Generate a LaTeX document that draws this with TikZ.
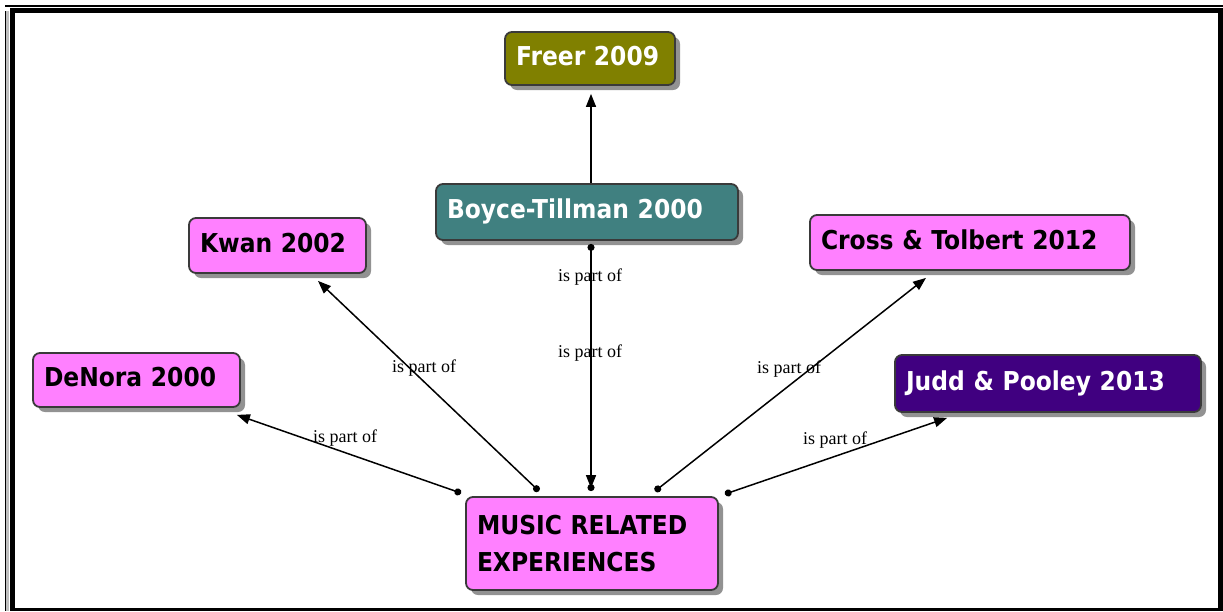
\documentclass[tikz,border=0pt]{standalone}
\usepackage{fontspec}
\setmainfont{Liberation Serif}
\newfontfamily\boxfont{DejaVu Sans}[FakeStretch=0.9]
\usetikzlibrary{arrows.meta,shadows,calc}

\definecolor{pinkbox}{HTML}{FF80FF}
\definecolor{olivebox}{HTML}{808000}
\definecolor{tealbox}{HTML}{408080}
\definecolor{purplebox}{HTML}{400080}
\definecolor{boxedge}{HTML}{3A3A3A}

\tikzset{
  concept/.style={draw=boxedge, line width=1.8pt, rounded corners=7pt,
    inner xsep=11pt, inner ysep=0pt, align=left,
    font=\boxfont\bfseries\fontsize{26}{37}\selectfont,
    drop shadow={shadow xshift=5pt, shadow yshift=-5pt, fill=black!50, opacity=0.85}},
  oneline/.style={text height=19pt, text depth=6pt},
  lbl/.style={font=\fontsize{18}{18}\selectfont, inner sep=0pt},
  link/.style={line width=1.5pt, {Circle[length=7pt]}-{Triangle[length=13pt,width=10pt]}},
  plainlink/.style={line width=1.5pt, -{Triangle[length=13pt,width=10pt]}},
  backlink/.style={line width=1.5pt, {Circle[length=7pt]}-}
}

\begin{document}
\begin{tikzpicture}[x=1pt, y=-1pt]
  \useasboundingbox (0,0) rectangle (1223,611);
  \fill[white] (0,0) rectangle (1223,611);

  % frame
  \fill[black] (5,4.5) rectangle (1223,7);
  \fill[black!25] (6,11) rectangle (9,611);
  \fill[black] (4.5,11) rectangle (6,611);
  \fill[black] (10,8) rectangle (1223,13);
  \fill[black] (10,8) rectangle (14.5,611);
  \fill[black] (1217.5,8) rectangle (1223,611);
  \fill[black] (10,607.5) rectangle (1223,611);

  % concepts
  \node[concept, oneline, fill=olivebox, text=white, minimum height=53pt, text width=148pt]
    (freer) at (590,58.5) {Freer 2009};
  \node[concept, oneline, fill=tealbox, text=white, minimum height=56pt, text width=280pt]
    (boyce) at (587,212) {Boyce-Tillman 2000};
  \node[concept, oneline, fill=pinkbox, minimum height=55pt, text width=155pt]
    (kwan) at (277.5,245.5) {Kwan 2002};
  \node[concept, oneline, fill=pinkbox, minimum height=55pt, text width=298pt]
    (cross) at (970,242.5) {Cross \& Tolbert 2012};
  \node[concept, oneline, fill=pinkbox, minimum height=54pt, text width=185pt]
    (denora) at (136.5,380) {DeNora 2000};
  \node[concept, oneline, fill=purplebox, text=white, minimum height=57pt, text width=284pt]
    (judd) at (1048,383.5) {Judd \& Pooley 2013};
  \node[concept, fill=pinkbox, minimum height=93pt, text width=230pt]
    (music) at (592,543.5) {MUSIC RELATED\\EXPERIENCES};

  % links
  \draw[link] ($(music.north west)+(-4,-3)$) -- ($(denora.south east)+(-4,7)$);
  \draw[link] ($(music.north)+(-53,-5)$) -- ($(kwan.south)+(40.5,7)$);
  \draw[backlink] ($(music.north)+(-1,-5)$) -- ($(boyce.south)+(4,3)$);
  \draw[link] ($(boyce.south)+(4,3)$) -- ($(music.north)+(-1,-8)$);
  \draw[plainlink] ($(boyce.north)+(4,0)$) -- ($(freer.south)+(1,8)$);
  \draw[link] ($(music.north)+(63,-5)$) -- ($(cross.south)+(-44,7)$);
  \draw[link] ($(music.north east)+(6,-2)$) -- ($(judd.south west)+(53,5)$);

  % link labels
  \node[lbl] (ldenora) at (345,438) {is part of};
  \node[lbl] (lkwan) at (424,368) {is part of};
  \node[lbl] (lboyce) at (590,277) {is part of};
  \node[lbl] (lmusic) at (590,353) {is part of};
  \node[lbl] (lcross) at (789,369) {is part of};
  \node[lbl] (ljudd) at (835,440) {is part of};
\end{tikzpicture}
\end{document}
